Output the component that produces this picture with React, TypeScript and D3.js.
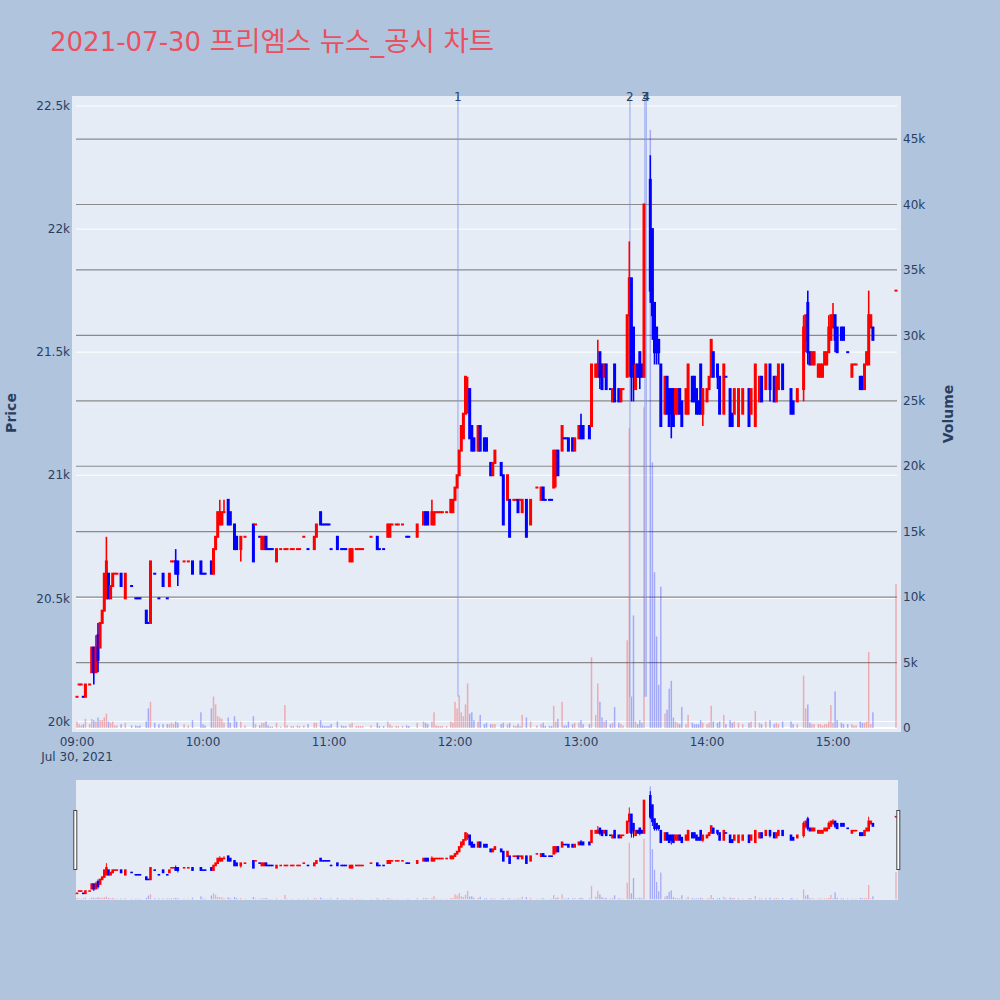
import React from "react";
import * as d3 from "d3";

type Row = [number, number, number, number, number, number]; // minute, open, high, low, close, volume

const hour09: Row[] = [
  [0, 20100, 20100, 20100, 20100, 500], [1, 20150, 20150, 20150, 20150, 300], [2, 20150, 20150, 20150, 20150, 200],
  [3, 20100, 20100, 20100, 20100, 300], [4, 20100, 20150, 20100, 20150, 700], [6, 20150, 20150, 20150, 20150, 300],
  [7, 20200, 20300, 20200, 20300, 700], [8, 20300, 20300, 20150, 20200, 600], [9, 20200, 20350, 20200, 20300, 500],
  [10, 20350, 20400, 20200, 20250, 800], [11, 20300, 20400, 20300, 20400, 600], [12, 20400, 20450, 20400, 20450, 600],
  [13, 20450, 20600, 20450, 20600, 800], [14, 20500, 20750, 20500, 20650, 1100], [15, 20600, 20600, 20500, 20500, 500],
  [16, 20500, 20550, 20500, 20550, 400], [17, 20550, 20600, 20550, 20600, 500], [18, 20600, 20600, 20600, 20600, 200],
  [19, 20600, 20600, 20600, 20600, 200], [21, 20600, 20600, 20550, 20550, 300], [23, 20500, 20600, 20500, 20600, 400],
  [26, 20550, 20550, 20550, 20550, 200], [28, 20500, 20500, 20500, 20500, 200], [29, 20500, 20500, 20500, 20500, 150],
  [30, 20500, 20500, 20500, 20500, 200], [33, 20450, 20450, 20400, 20400, 500], [34, 20400, 20400, 20400, 20400, 1500],
  [35, 20400, 20650, 20400, 20650, 2000], [37, 20600, 20600, 20600, 20600, 400], [39, 20500, 20500, 20500, 20500, 300],
  [41, 20600, 20600, 20550, 20550, 300], [43, 20500, 20500, 20500, 20500, 300], [44, 20550, 20600, 20550, 20600, 300],
  [45, 20650, 20650, 20650, 20650, 400], [46, 20650, 20650, 20650, 20650, 300], [47, 20650, 20700, 20600, 20600, 500],
  [48, 20650, 20650, 20550, 20600, 400], [51, 20650, 20650, 20650, 20650, 300], [53, 20650, 20650, 20650, 20650, 200],
  [55, 20650, 20650, 20600, 20600, 600], [59, 20650, 20650, 20600, 20600, 1200],
];

const hour10: Row[] = [
  [60, 20600, 20600, 20600, 20600, 300], [61, 20600, 20600, 20600, 20600, 200], [64, 20650, 20650, 20600, 20600, 1500],
  [65, 20600, 20700, 20600, 20700, 2400], [66, 20700, 20750, 20700, 20750, 1800], [67, 20750, 20850, 20750, 20850, 900],
  [68, 20800, 20900, 20800, 20850, 800], [69, 20800, 20850, 20800, 20850, 700], [70, 20850, 20900, 20850, 20850, 400],
  [72, 20900, 20900, 20800, 20800, 800], [73, 20850, 20850, 20800, 20800, 400], [75, 20800, 20800, 20700, 20700, 900],
  [76, 20750, 20750, 20700, 20700, 500], [78, 20700, 20750, 20650, 20750, 500], [80, 20750, 20750, 20750, 20750, 200],
  [84, 20800, 20800, 20650, 20650, 900], [85, 20800, 20800, 20800, 20800, 300], [87, 20750, 20750, 20750, 20750, 200],
  [88, 20700, 20750, 20700, 20750, 400], [89, 20700, 20750, 20700, 20750, 400], [90, 20750, 20750, 20700, 20700, 500],
  [91, 20700, 20700, 20700, 20700, 200], [92, 20700, 20700, 20700, 20700, 100], [93, 20700, 20700, 20700, 20700, 100],
  [95, 20650, 20700, 20650, 20700, 400], [97, 20700, 20700, 20700, 20700, 100], [99, 20700, 20700, 20700, 20700, 1750],
  [100, 20700, 20700, 20700, 20700, 200], [102, 20700, 20700, 20700, 20700, 150], [103, 20700, 20700, 20700, 20700, 150],
  [105, 20700, 20700, 20700, 20700, 200], [106, 20700, 20700, 20700, 20700, 150], [108, 20750, 20750, 20750, 20750, 200],
  [110, 20700, 20700, 20700, 20700, 300], [113, 20700, 20750, 20700, 20750, 400], [114, 20750, 20800, 20750, 20800, 400],
  [116, 20850, 20850, 20800, 20800, 600], [117, 20800, 20800, 20800, 20800, 200], [118, 20800, 20800, 20800, 20800, 150],
  [119, 20800, 20800, 20800, 20800, 150],
];

const hour11: Row[] = [
  [120, 20800, 20800, 20800, 20800, 150], [121, 20700, 20700, 20700, 20700, 300], [124, 20750, 20750, 20700, 20700, 500],
  [126, 20700, 20700, 20700, 20700, 200], [127, 20700, 20700, 20700, 20700, 150], [128, 20700, 20700, 20700, 20700, 150],
  [130, 20650, 20700, 20650, 20700, 300], [131, 20650, 20700, 20650, 20700, 400], [133, 20700, 20700, 20700, 20700, 150],
  [134, 20700, 20700, 20700, 20700, 150], [135, 20700, 20700, 20700, 20700, 150], [136, 20700, 20700, 20700, 20700, 150],
  [140, 20750, 20750, 20750, 20750, 200], [143, 20750, 20750, 20700, 20700, 400], [144, 20700, 20700, 20700, 20700, 150],
  [146, 20700, 20700, 20700, 20700, 150], [148, 20750, 20800, 20750, 20800, 500], [149, 20750, 20800, 20750, 20800, 300],
  [150, 20800, 20800, 20800, 20800, 150], [152, 20800, 20800, 20800, 20800, 150], [153, 20800, 20800, 20800, 20800, 150],
  [155, 20800, 20800, 20800, 20800, 150], [157, 20750, 20750, 20750, 20750, 200], [158, 20750, 20750, 20750, 20750, 150],
  [162, 20750, 20800, 20750, 20800, 400], [165, 20800, 20850, 20800, 20850, 500], [166, 20850, 20850, 20800, 20800, 400],
  [167, 20850, 20850, 20800, 20800, 300], [169, 20800, 20900, 20800, 20850, 500], [170, 20800, 20850, 20800, 20850, 1200],
  [171, 20850, 20850, 20850, 20850, 200], [172, 20850, 20850, 20850, 20850, 150], [173, 20850, 20850, 20850, 20850, 150],
  [174, 20850, 20850, 20850, 20850, 150], [176, 20850, 20850, 20850, 20850, 150], [178, 20850, 20900, 20850, 20900, 500],
  [179, 20850, 20900, 20850, 20900, 400],
];

const hour12: Row[] = [
  [180, 20900, 20950, 20900, 20950, 2000], [181, 20950, 21000, 20950, 21000, 1500], [182, 21000, 21100, 21000, 21100, 2500],
  [183, 21100, 21200, 21100, 21200, 1200], [184, 21150, 21250, 21150, 21250, 900], [185, 21250, 21400, 21250, 21400, 1800],
  [186, 21300, 21400, 21250, 21350, 3400], [187, 21350, 21350, 21150, 21150, 1100], [188, 21200, 21200, 21100, 21100, 1200],
  [189, 21150, 21150, 21100, 21100, 600], [191, 21100, 21200, 21100, 21200, 500], [192, 21200, 21200, 21100, 21100, 1000],
  [194, 21150, 21150, 21100, 21100, 300], [195, 21150, 21150, 21100, 21100, 400], [197, 21050, 21050, 21000, 21000, 300],
  [198, 21000, 21050, 21000, 21050, 300], [199, 21050, 21100, 21050, 21100, 300], [202, 21050, 21050, 21000, 21000, 300],
  [203, 21000, 21000, 20800, 20800, 400], [205, 20900, 21000, 20900, 21000, 300], [206, 20900, 20900, 20750, 20750, 400],
  [208, 20900, 20900, 20900, 20900, 200], [209, 20900, 20900, 20900, 20900, 150], [210, 20900, 20900, 20850, 20850, 300],
  [211, 20900, 20900, 20900, 20900, 150], [212, 20850, 20900, 20850, 20900, 1000], [214, 20900, 20900, 20750, 20750, 800],
  [216, 20800, 20900, 20800, 20900, 500], [219, 20950, 20950, 20950, 20950, 200], [221, 20900, 20950, 20900, 20950, 300],
  [222, 20950, 20950, 20900, 20900, 400], [223, 20900, 20900, 20900, 20900, 150], [225, 20900, 20900, 20900, 20900, 150],
  [226, 20900, 20900, 20900, 20900, 150], [227, 20950, 21100, 20950, 21100, 1700], [228, 21000, 21100, 20950, 21100, 500],
  [229, 21100, 21100, 21000, 21000, 700], [231, 21100, 21200, 21100, 21200, 2000], [232, 21150, 21150, 21150, 21150, 200],
  [233, 21150, 21150, 21150, 21150, 200], [234, 21150, 21150, 21100, 21100, 500], [236, 21150, 21150, 21100, 21100, 300],
  [237, 21100, 21150, 21100, 21150, 400], [239, 21150, 21200, 21150, 21200, 400],
];

const hour13: Row[] = [
  [240, 21200, 21250, 21150, 21150, 600], [241, 21200, 21200, 21150, 21150, 300], [244, 21200, 21200, 21150, 21150, 300],
  [245, 21200, 21450, 21200, 21450, 5400], [247, 21400, 21450, 21400, 21450, 1000], [248, 21400, 21550, 21400, 21450, 3400],
  [249, 21500, 21500, 21350, 21400, 2000], [250, 21450, 21450, 21350, 21350, 800], [251, 21400, 21450, 21400, 21450, 500],
  [252, 21450, 21450, 21350, 21350, 600], [254, 21350, 21350, 21350, 21350, 300], [255, 21300, 21350, 21300, 21350, 400],
  [256, 21450, 21450, 21300, 21300, 1600], [258, 21350, 21350, 21300, 21300, 400], [259, 21300, 21350, 21300, 21350, 300],
  [260, 21350, 21350, 21350, 21350, 200], [262, 21400, 21650, 21400, 21650, 6700], [263, 21650, 21950, 21400, 21800, 22900],
  [264, 21800, 21800, 21300, 21400, 2400], [265, 21600, 21600, 21300, 21450, 8600], [266, 21350, 21450, 21350, 21450, 500],
  [267, 21450, 21450, 21400, 21400, 300], [268, 21500, 21500, 21350, 21400, 600], [269, 21450, 21450, 21400, 21400, 400],
  [270, 21400, 22100, 21400, 22100, 24500], [273, 22200, 22300, 21700, 21750, 45700], [274, 22000, 22000, 21550, 21650, 20300],
  [275, 21700, 21700, 21450, 21500, 11900], [276, 21600, 21600, 21450, 21500, 7000], [277, 21550, 21550, 21450, 21500, 3300],
  [278, 21450, 21450, 21200, 21200, 10800], [280, 21250, 21400, 21250, 21400, 1100], [281, 21400, 21400, 21250, 21250, 1400],
  [282, 21350, 21350, 21200, 21200, 3000], [283, 21350, 21350, 21150, 21250, 3600], [284, 21350, 21350, 21200, 21200, 800],
  [285, 21250, 21350, 21250, 21350, 500], [286, 21250, 21350, 21250, 21350, 400], [287, 21350, 21350, 21250, 21250, 300],
  [288, 21300, 21300, 21200, 21200, 1600], [290, 21250, 21350, 21250, 21350, 300], [291, 21250, 21450, 21250, 21450, 1000],
  [293, 21400, 21400, 21300, 21300, 400], [294, 21400, 21400, 21300, 21300, 300], [295, 21350, 21350, 21250, 21250, 300],
  [296, 21300, 21300, 21250, 21250, 300], [297, 21450, 21450, 21250, 21250, 600], [298, 21250, 21350, 21200, 21350, 400],
];

const hour14: Row[] = [
  [300, 21300, 21350, 21300, 21350, 300], [301, 21350, 21400, 21350, 21400, 400], [302, 21400, 21550, 21400, 21550, 1700],
  [303, 21500, 21500, 21400, 21400, 500], [305, 21450, 21450, 21350, 21400, 400], [306, 21400, 21400, 21250, 21250, 500],
  [308, 21250, 21450, 21250, 21450, 1000], [309, 21400, 21400, 21400, 21400, 300], [311, 21350, 21350, 21200, 21200, 600],
  [312, 21250, 21250, 21200, 21200, 400], [313, 21250, 21350, 21250, 21350, 500], [315, 21200, 21350, 21200, 21350, 400],
  [317, 21250, 21350, 21250, 21350, 300], [320, 21350, 21350, 21200, 21200, 400], [321, 21250, 21350, 21250, 21350, 500],
  [323, 21200, 21450, 21200, 21450, 1300], [325, 21300, 21400, 21300, 21400, 400], [326, 21400, 21400, 21300, 21300, 300],
  [328, 21350, 21450, 21350, 21450, 500], [330, 21450, 21450, 21300, 21350, 600], [332, 21400, 21400, 21300, 21300, 300],
  [333, 21300, 21400, 21300, 21400, 400], [334, 21350, 21450, 21350, 21450, 300], [336, 21450, 21450, 21350, 21350, 500],
  [340, 21350, 21350, 21250, 21250, 500], [341, 21300, 21300, 21250, 21250, 300], [343, 21300, 21350, 21300, 21350, 300],
  [346, 21350, 21650, 21300, 21600, 4000], [347, 21550, 21650, 21500, 21650, 1500], [348, 21700, 21750, 21450, 21500, 1800],
  [349, 21500, 21500, 21450, 21450, 400], [350, 21450, 21500, 21450, 21500, 300], [351, 21450, 21500, 21450, 21500, 300],
  [353, 21400, 21450, 21400, 21450, 300], [354, 21400, 21450, 21400, 21450, 300], [355, 21400, 21450, 21400, 21450, 200],
  [356, 21450, 21500, 21450, 21500, 300], [357, 21450, 21500, 21450, 21500, 300], [358, 21500, 21650, 21500, 21600, 500],
  [359, 21550, 21650, 21550, 21650, 1750],
];

const hour15: Row[] = [
  [360, 21600, 21700, 21600, 21650, 400], [361, 21650, 21650, 21500, 21550, 2800], [362, 21600, 21600, 21500, 21500, 600],
  [364, 21600, 21600, 21550, 21550, 400], [365, 21600, 21600, 21550, 21550, 300], [367, 21500, 21500, 21500, 21500, 300],
  [369, 21400, 21450, 21400, 21450, 300], [370, 21450, 21450, 21450, 21450, 200], [371, 21450, 21450, 21450, 21450, 200],
  [373, 21400, 21400, 21350, 21350, 500], [374, 21400, 21400, 21350, 21350, 400], [375, 21350, 21450, 21350, 21450, 400],
  [376, 21450, 21500, 21450, 21500, 500], [377, 21450, 21750, 21450, 21650, 5800], [378, 21600, 21650, 21600, 21650, 300],
  [379, 21600, 21600, 21550, 21550, 1200], [390, 21750, 21750, 21750, 21750, 11000],
];

const priceTicks = [20000, 20500, 21000, 21500, 22000, 22500];
const volumeTicks = [0, 5000, 10000, 15000, 20000, 25000, 30000, 35000, 40000, 45000];
const timeTicks = [0, 60, 120, 180, 240, 300, 360];
const newsLabels = ["1", "2", "3", "4"];
const newsMinutes = [181.4, 263.3, 270.4, 271.1];
const titleParts = ["2021-07-30", " 프리엠스 뉴스_공시 차트"];

const PRICE_RANGE: [number, number] = [19957, 22540.6];
const VOLUME_RANGE: [number, number] = [-306, 48290];
const MINUTE_RANGE: [number, number] = [-2.381, 392.381];
const SESSION_START = new Date(2021, 6, 30, 9, 0, 0);

type Candle = { m: number; o: number; h: number; l: number; c: number; v: number; inc: boolean };

function buildCandles(): Candle[] {
  const rows = [...hour09, ...hour10, ...hour11, ...hour12, ...hour13, ...hour14, ...hour15];
  let inc = true;
  let prev: number | null = null;
  return rows.map(([m, o, h, l, c, v]) => {
    if (c === o) {
      if (prev !== null && c !== prev) inc = c > prev;
    } else inc = c > o;
    prev = c;
    return { m, o, h, l, c, v, inc };
  });
}

const UP = "#ff0000";
const DOWN = "#0000ff";
const FONT = "'DejaVu Sans', Verdana, sans-serif";
const AXIS_COLOR = "#2a3f5f";

function CandleLayer({ data, x, yP, yV, bw, ww, pad, vw }: any) {
  return (
    <g>
      {data.map((d: Candle, i: number) => {
        const cx = x(d.m);
        return (
          <rect key={"v" + i} x={cx - vw / 2} width={vw} y={yV(d.v)} height={yV(0) - yV(d.v)}
            fill={d.inc ? UP : DOWN} fillOpacity={0.28} />
        );
      })}
      {data.map((d: Candle, i: number) => {
        const cx = x(d.m);
        const col = d.inc ? UP : DOWN;
        const top = yP(Math.max(d.o, d.c));
        const bot = yP(Math.min(d.o, d.c));
        return (
          <g key={"c" + i}>
            {d.h !== d.l && <line x1={cx} x2={cx} y1={yP(d.h)} y2={yP(d.l)} stroke={col} strokeWidth={ww} />}
            <rect x={cx - bw / 2} y={top - pad} width={bw} height={bot - top + 2 * pad} fill={col} />
          </g>
        );
      })}
    </g>
  );
}

export default function App() {
  const data = buildCandles();
  const x = d3.scaleLinear().domain(MINUTE_RANGE).range([72, 901]);
  const yP = d3.scaleLinear().domain(PRICE_RANGE).range([732, 96]);
  const yV = d3.scaleLinear().domain(VOLUME_RANGE).range([732, 96]);
  const yPs = d3.scaleLinear().domain(PRICE_RANGE).range([900, 780]);
  const yVs = d3.scaleLinear().domain(VOLUME_RANGE).range([900, 780]);
  const fmtK = d3.format("~s");
  const fmtTime = d3.timeFormat("%H:%M");
  const fmtDate = d3.timeFormat("%b %-d, %Y");
  const toDate = (m: number) => new Date(SESSION_START.getTime() + m * 60000);

  return (
    <div style={{ position: "absolute", left: 0, top: 0, width: 1000, height: 1000 }}>
      <svg width={1000} height={1000} style={{ display: "block" }}>
        <rect x={0} y={0} width={1000} height={1000} fill="#b0c4de" />
        <text x={50} y={50.5} fill="#eb505f" fontFamily="'DejaVu Sans', 'Noto Sans CJK KR', sans-serif">
          <tspan fontSize={26}>{titleParts[0]}</tspan>
          <tspan fontSize={27.5}>{titleParts[1]}</tspan>
        </text>

        {/* main plot */}
        <rect x={72} y={96} width={829} height={636} fill="#e5ecf6" />
        {priceTicks.map((p) => (
          <line key={"pg" + p} x1={76} x2={897} y1={yP(p)} y2={yP(p)} stroke="#ffffff" strokeWidth={1} />
        ))}
        {volumeTicks.filter((v) => v > 0).map((v) => (
          <line key={"vg" + v} x1={76} x2={897} y1={yV(v)} y2={yV(v)} stroke="#808080" strokeWidth={1.2} strokeOpacity={0.9} />
        ))}
        <line x1={76} x2={897} y1={yV(0)} y2={yV(0)} stroke="#ffffff" strokeWidth={2} />

        <g>
          {data.map((d, i) => {
            const cx = x(d.m);
            return (
              <rect key={"mv" + i} x={cx - 0.75} width={1.5} y={yV(d.v)} height={yV(0) - yV(d.v)}
                fill={d.inc ? UP : DOWN} fillOpacity={0.28} />
            );
          })}
        </g>
        {newsMinutes.map((m, i) => (
          <line key={"nl" + i} x1={x(m)} x2={x(m)} y1={96} y2={yP(20100)} stroke="#7d93ee" strokeOpacity={0.6} strokeWidth={1.3} />
        ))}
        <g>
          {data.map((d, i) => {
            const cx = x(d.m);
            const col = d.inc ? UP : DOWN;
            const top = yP(Math.max(d.o, d.c));
            const bot = yP(Math.min(d.o, d.c));
            return (
              <g key={"mc" + i}>
                {d.h !== d.l && <line x1={cx} x2={cx} y1={yP(d.h)} y2={yP(d.l)} stroke={col} strokeWidth={1.6} />}
                <rect x={cx - 1.5} y={top - 1} width={3} height={bot - top + 2} fill={col} />
              </g>
            );
          })}
        </g>
        {newsMinutes.map((m, i) => (
          <text key={"nt" + i} x={x(m)} y={101} textAnchor="middle" fontSize={12} fill={AXIS_COLOR} fontFamily={FONT}>
            {newsLabels[i]}
          </text>
        ))}

        {/* axes labels */}
        {priceTicks.map((p) => (
          <text key={"pt" + p} x={70} y={yP(p)} dy="0.35em" textAnchor="end" fontSize={12} fill={AXIS_COLOR} fontFamily={FONT}>
            {fmtK(p)}
          </text>
        ))}
        {volumeTicks.map((v) => (
          <text key={"vt" + v} x={903} y={yV(v)} dy="0.35em" textAnchor="start" fontSize={12} fill={AXIS_COLOR} fontFamily={FONT}>
            {fmtK(v)}
          </text>
        ))}
        {timeTicks.map((m) => (
          <text key={"tt" + m} x={x(m)} y={745.5} textAnchor="middle" fontSize={12} fill={AXIS_COLOR} fontFamily={FONT}>
            {fmtTime(toDate(m))}
          </text>
        ))}
        <text x={x(timeTicks[0])} y={760.5} textAnchor="middle" fontSize={12} fill={AXIS_COLOR} fontFamily={FONT}>
          {fmtDate(toDate(timeTicks[0]))}
        </text>
        <text transform="translate(15.5,413) rotate(-90)" textAnchor="middle" fontSize={14} fontWeight="bold"
          fill={AXIS_COLOR} fontFamily={FONT}>Price</text>
        <text transform="translate(952.5,414) rotate(-90)" textAnchor="middle" fontSize={14} fontWeight="bold"
          fill={AXIS_COLOR} fontFamily={FONT}>Volume</text>

        {/* range slider */}
        <rect x={76} y={780} width={822} height={120} fill="#e5ecf6" />
        <CandleLayer data={data} x={x} yP={yPs} yV={yVs} bw={2.6} ww={1} pad={0.8} vw={1.3} />
        <rect x={73.8} y={810.5} width={3} height={59} fill="#ffffff" stroke="#444" strokeWidth={1} />
        <rect x={896.8} y={810.5} width={3} height={59} fill="#ffffff" stroke="#444" strokeWidth={1} />
      </svg>
    </div>
  );
}
